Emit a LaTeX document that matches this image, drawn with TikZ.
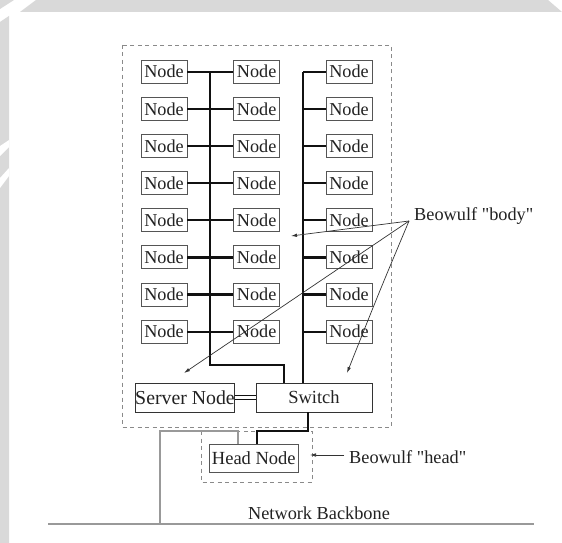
\documentclass[tikz,border=0pt]{standalone}
\usepackage{fontspec}
\setmainfont{Liberation Serif}[Ligatures=TeXOff]
\usetikzlibrary{arrows.meta}
\definecolor{bandc}{HTML}{D9D9D9}
\definecolor{boxc}{HTML}{555555}
\definecolor{darkboxc}{HTML}{333333}
\definecolor{busc}{HTML}{111111}
\definecolor{dashc}{HTML}{8A8A8A}
\definecolor{arrc}{HTML}{333333}
\definecolor{grayc}{HTML}{999999}
\definecolor{txt}{HTML}{222222}
\begin{document}
\begin{tikzpicture}[x=1pt,y=-1pt,
  box/.style={draw=boxc, line width=0.9pt, inner sep=0pt, text=txt},
  nodebox/.style={box, minimum width=46pt, minimum height=23pt, font=\fontsize{18.2}{20}\selectfont},
  bigbox/.style={box, draw=darkboxc, font=\fontsize{18.5}{20}\selectfont},
  bus/.style={draw=busc, line width=2.2pt},
  frame/.style={draw=dashc, line width=0.8pt, dash pattern=on 4pt off 3.5pt},
  pointer/.style={draw=arrc, line width=0.7pt, -{Latex[length=6pt,width=3.5pt]}},
  grayline/.style={draw=grayc, line width=1.4pt},
  lbl/.style={font=\fontsize{18.3}{20}\selectfont, text=txt, inner sep=0pt}]
\useasboundingbox (0,0) rectangle (562,543);
% scan border
\fill[white] (0,0) rectangle (562,543);
\fill[bandc] (36,0) -- (548,0) -- (562,12) -- (20,12) -- cycle;
\fill[bandc] (0,0) -- (14,0) -- (0,9) -- cycle;
\fill[bandc] (0,22) -- (9,16) -- (9,543) -- (0,543) -- cycle;
\fill[white] (0,146) -- (9,140) -- (9,147) -- (0,156) -- cycle;
\fill[white] (0,178) -- (9,168) -- (9,176) -- (0,188) -- cycle;

% frames
\draw[frame] (122,45) rectangle (391,427);
\draw[frame] (201,431) rectangle (312,482);

% compute nodes
\foreach \r in {1,...,8} {
  \pgfmathsetmacro{\yy}{71.7+37.14*(\r-1)}
  \node[nodebox] (a\r) at (164,\yy) {Node};
  \node[nodebox] (b\r) at (256.7,\yy) {Node};
  \node[nodebox] (c\r) at (349,\yy) {Node};
}

\node[bigbox, minimum width=96pt, minimum height=28.5pt, font=\fontsize{19.8}{20}\selectfont] (srv) at (185,397.8) {Server Node};
\node[bigbox, minimum width=116pt, minimum height=29pt] (sw) at (314,397.5) {Switch};
\node[bigbox, draw=boxc, minimum width=89pt, minimum height=28.5pt] (head) at (253.8,458.5) {Head Node};

% bus coordinates
\coordinate (busA) at (210,365);
\coordinate (busAturn) at (284,365);
\coordinate (busB) at (303,71.7);
\coordinate (hturn1) at (307.7,431);
\coordinate (hturn2) at (256.7,431);

% buses
\foreach \r in {1,...,8} {
  \draw[bus] (a\r.east) -- (b\r.west);
  \draw[bus] (busB |- c\r.west) -- (c\r.west);
}
\draw[bus] (busA |- a1.east) -- (busA) -- (busAturn) -- (busAturn |- sw.north);
\draw[bus] (busB) -- (busB |- sw.north);
% switch to head
\draw[bus] (hturn1 |- sw.south) -- (hturn1) -- (hturn2) -- (hturn2 |- head.north);
% server to switch double line
\draw[draw=busc, line width=1pt] ([yshift=-1.8pt]srv.east |- sw.center) -- ([yshift=-1.8pt]sw.west);
\draw[draw=busc, line width=1pt] ([yshift=1.8pt]srv.east |- sw.center) -- ([yshift=1.8pt]sw.west);

% backbone
\node[lbl] (bbl) at (319,513) {Network Backbone};
\coordinate (bbL) at (48,524);
\coordinate (bbR) at (534,524);
\coordinate (up1) at (160,431);
\coordinate (up2) at (238,431);
\draw[grayline] (bbL) -- (bbR);
\draw[grayline] (up1 |- bbL) -- (up1) -- (up2) -- (up2 |- head.north);

% labels
\node[lbl, anchor=west] (body) at (414,216) {Beowulf "body"};
\node[lbl, anchor=west] (headl) at (349,457) {Beowulf "head"};
\coordinate (bo) at (409,221);
\coordinate (t1) at (291,236);
\coordinate (t2) at (184,373);
\coordinate (t3) at (347,373);
\coordinate (ho) at (344,455);
\coordinate (t4) at (310,455);
\draw[pointer] (bo) -- (t1);
\draw[pointer] (bo) -- (t2);
\draw[pointer] (bo) .. controls (380,290) .. (t3);
\draw[pointer] (ho) -- (t4);
\end{tikzpicture}
\end{document}
